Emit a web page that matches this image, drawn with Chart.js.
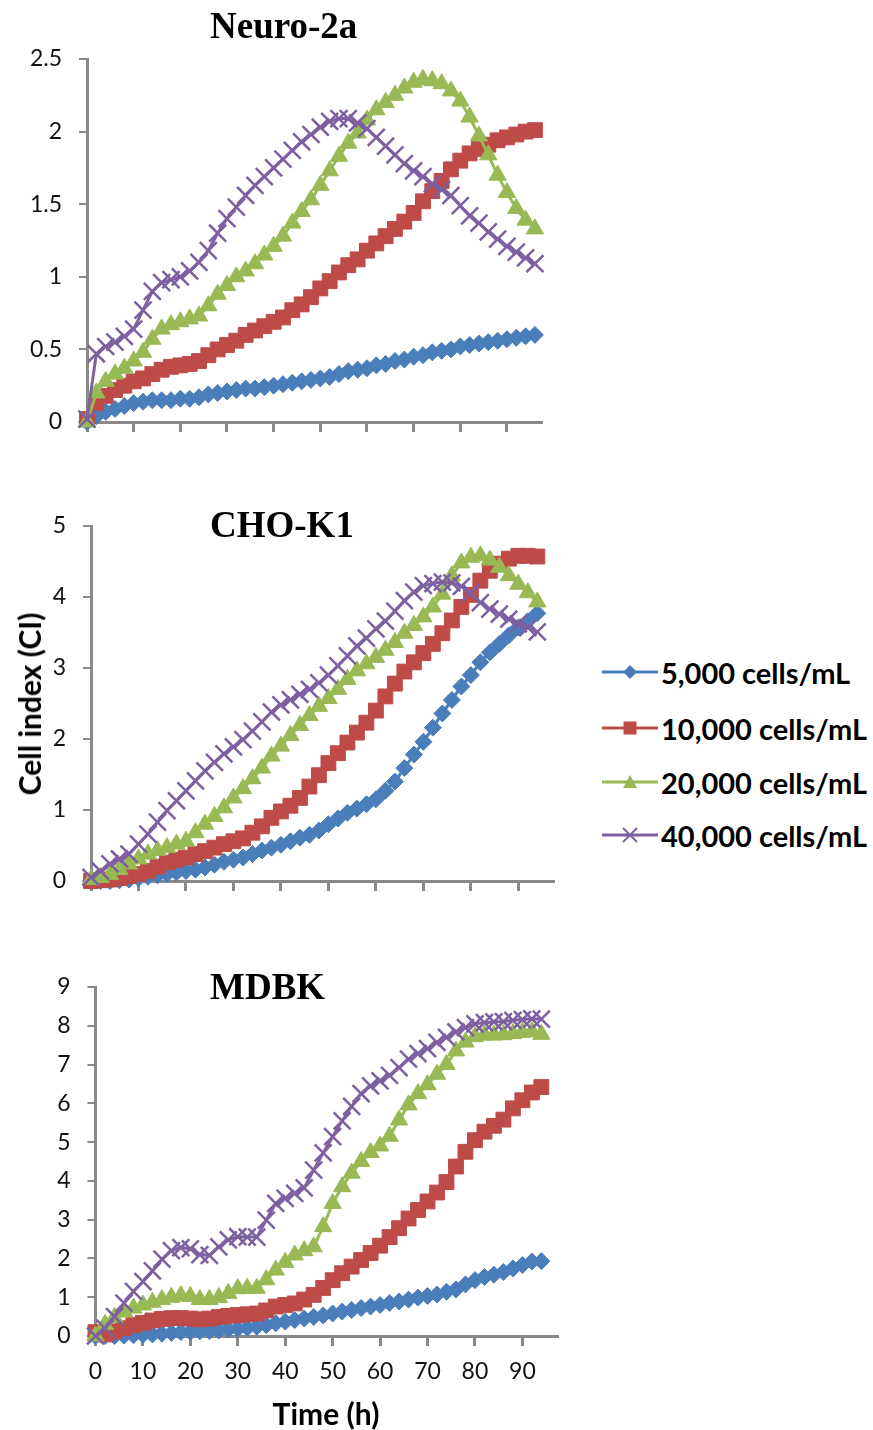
<!DOCTYPE html>
<html>
<head>
<meta charset="utf-8">
<script src="https://cdn.jsdelivr.net/npm/chart.js@4.4.0/dist/chart.umd.min.js"></script>
<style>
  body { margin: 0; background: #fff; }
  #wrap { position: relative; width: 873px; height: 1430px; overflow: hidden; font-family: Lato, sans-serif; }
  #wrap canvas { position: absolute; left: 0; }
  .title { position: absolute; left: 210px; font: bold 37px "Liberation Serif", "Times New Roman", serif; line-height: 37px; color: #000; white-space: nowrap; }
  .axis-title { position: absolute; font: bold 30px Lato, sans-serif; color: #000; white-space: nowrap; }
  .legend-row { position: absolute; left: 602px; height: 40px; display: flex; align-items: center; font: bold 29px Lato, sans-serif; color: #000; white-space: nowrap; }
  .legend-row svg { margin-right: 3px; }
</style>
</head>
<body>
<div id="wrap">
  <canvas id="neuro" width="600" height="470" style="top:0px"></canvas>
  <canvas id="cho" width="600" height="460" style="top:470px"></canvas>
  <canvas id="mdbk" width="600" height="500" style="top:930px"></canvas>
  <div class="title" style="top:7px">Neuro-2a</div>
  <div class="title" style="top:506px">CHO-K1</div>
  <div class="title" style="top:968px">MDBK</div>
  <div class="axis-title" id="ytitle" style="left:29px; top:704px; transform: translate(-50%, -50%) rotate(-90deg);">Cell index (CI)</div>
  <div class="axis-title" style="left:326px; top:1413px; transform: translate(-50%, -50%);">Time (h)</div>
  <div id="legend"></div>
</div>
<script>
// time points (h)
const neuroTimes = [0,2,4,6,8,10,12,14,16,18,20,22,24,26,28,30,32,34,36,38,40,42,44,46,48,50,52,54,56,58,60,62,64,66,68,70,72,74,76,78,80,82,84,86,88,90,92,94,96];
const panelTimes = [0,2,4,6,8,10,12,14,16,18,20,22,24,26,28,30,32,34,36,38,40,42,44,46,48,50,52,54,56,58,60,62,64,66,68,70,72,74,76,78,80,82,84,86,88,90,92,94];

const seriesLabels = ['5,000 cells/mL', '10,000 cells/mL', '20,000 cells/mL', '40,000 cells/mL'];
const seriesColors = ['#4A7EBB', '#BE4B48', '#98B954', '#7D60A0'];
const seriesMarkers = ['rectRot', 'rect', 'triangle', 'crossRot'];

// Neuro-2a
const neuro5k = [0.00,0.04,0.07,0.09,0.11,0.13,0.14,0.15,0.15,0.15,0.16,0.16,0.17,0.19,0.20,0.21,0.22,0.23,0.23,0.24,0.25,0.26,0.27,0.28,0.29,0.30,0.31,0.33,0.35,0.36,0.37,0.39,0.40,0.42,0.43,0.45,0.46,0.48,0.49,0.50,0.52,0.53,0.54,0.55,0.56,0.57,0.58,0.59,0.60];
const neuro10k = [0.02,0.13,0.18,0.22,0.25,0.28,0.30,0.33,0.36,0.38,0.39,0.40,0.42,0.46,0.50,0.53,0.56,0.60,0.63,0.66,0.69,0.72,0.77,0.81,0.86,0.92,0.97,1.03,1.08,1.12,1.18,1.23,1.28,1.33,1.38,1.44,1.52,1.59,1.66,1.74,1.80,1.85,1.88,1.91,1.94,1.96,1.98,2.00,2.01];
const neuro20k = [0.00,0.20,0.28,0.33,0.37,0.42,0.48,0.57,0.64,0.67,0.69,0.71,0.73,0.80,0.88,0.94,1.00,1.04,1.09,1.15,1.21,1.28,1.37,1.45,1.53,1.63,1.73,1.83,1.92,1.99,2.08,2.15,2.20,2.25,2.30,2.34,2.36,2.35,2.33,2.28,2.21,2.10,1.97,1.84,1.70,1.58,1.47,1.39,1.33];
const neuro40k = [0.02,0.47,0.52,0.55,0.59,0.64,0.77,0.90,0.96,0.98,1.00,1.04,1.10,1.18,1.30,1.40,1.48,1.56,1.63,1.69,1.75,1.81,1.87,1.93,1.98,2.03,2.07,2.09,2.09,2.06,2.02,1.96,1.90,1.84,1.78,1.73,1.69,1.64,1.60,1.56,1.49,1.42,1.37,1.31,1.26,1.21,1.17,1.13,1.09];

// CHO-K1
const cho5k = [0.00,0.00,0.00,0.01,0.02,0.04,0.06,0.08,0.10,0.12,0.14,0.16,0.19,0.23,0.27,0.30,0.33,0.38,0.43,0.47,0.51,0.56,0.61,0.65,0.71,0.80,0.88,0.96,1.02,1.08,1.15,1.27,1.40,1.59,1.78,1.96,2.16,2.36,2.55,2.74,2.90,3.08,3.22,3.34,3.46,3.57,3.66,3.77];
const cho10k = [0.00,0.01,0.02,0.04,0.07,0.10,0.14,0.20,0.26,0.30,0.33,0.38,0.42,0.47,0.52,0.56,0.60,0.68,0.77,0.89,0.98,1.06,1.17,1.33,1.49,1.66,1.80,1.95,2.09,2.23,2.40,2.60,2.78,2.95,3.08,3.21,3.34,3.49,3.67,3.86,4.03,4.23,4.37,4.47,4.54,4.58,4.58,4.57];
const cho20k = [0.02,0.05,0.09,0.16,0.24,0.31,0.38,0.43,0.47,0.52,0.56,0.68,0.80,0.91,1.03,1.17,1.30,1.44,1.59,1.76,1.90,2.05,2.19,2.33,2.46,2.57,2.70,2.84,2.96,3.06,3.15,3.25,3.36,3.49,3.60,3.72,3.86,4.04,4.30,4.48,4.56,4.58,4.52,4.42,4.30,4.18,4.06,3.93];
const cho40k = [0.05,0.14,0.24,0.31,0.38,0.52,0.66,0.83,0.99,1.13,1.27,1.41,1.55,1.67,1.79,1.89,1.99,2.11,2.24,2.38,2.48,2.55,2.63,2.70,2.79,2.90,3.03,3.17,3.31,3.42,3.55,3.66,3.80,3.95,4.07,4.16,4.19,4.21,4.20,4.15,4.06,3.92,3.83,3.76,3.69,3.62,3.57,3.51];

// MDBK
const mdbk5k = [0.00,0.00,0.00,0.01,0.02,0.03,0.04,0.06,0.08,0.10,0.11,0.12,0.13,0.14,0.17,0.19,0.21,0.24,0.28,0.33,0.37,0.41,0.45,0.49,0.53,0.58,0.63,0.67,0.72,0.76,0.80,0.85,0.89,0.94,0.99,1.03,1.07,1.14,1.20,1.33,1.44,1.52,1.58,1.65,1.74,1.83,1.92,1.93];
const mdbk10k = [0.10,0.04,0.12,0.20,0.28,0.34,0.40,0.44,0.46,0.46,0.45,0.43,0.45,0.49,0.52,0.54,0.56,0.58,0.66,0.76,0.80,0.84,0.94,1.06,1.24,1.44,1.62,1.79,1.96,2.14,2.33,2.55,2.78,3.03,3.25,3.47,3.70,3.97,4.37,4.75,5.05,5.27,5.42,5.58,5.87,6.08,6.28,6.42];
const mdbk20k = [0.00,0.30,0.48,0.62,0.72,0.80,0.87,0.94,1.00,1.04,1.02,0.94,0.94,0.99,1.10,1.22,1.23,1.23,1.45,1.70,1.90,2.09,2.20,2.30,2.82,3.42,3.85,4.20,4.50,4.73,4.90,5.15,5.57,5.96,6.25,6.48,6.75,7.00,7.35,7.58,7.72,7.76,7.76,7.77,7.80,7.83,7.85,7.78];
const mdbk40k = [0.00,0.20,0.50,0.85,1.15,1.40,1.68,1.98,2.20,2.28,2.25,2.10,2.08,2.30,2.48,2.56,2.55,2.55,2.99,3.42,3.55,3.68,3.82,4.28,4.72,5.14,5.55,5.92,6.25,6.45,6.58,6.72,6.92,7.14,7.28,7.41,7.57,7.70,7.84,7.95,8.05,8.08,8.10,8.11,8.14,8.16,8.18,8.17];

Chart.defaults.font.family = 'Lato, sans-serif';
Chart.defaults.color = '#111';

// big overlapping markers make the dense "band" look of the original
const markerRadius = [8.5, 10.5, 10, 12];
const axisGray = '#898989';

function makePanel(id, times, series, yMax, yStep, showX, box) {
  const datasets = series.map((vals, i) => ({
    label: seriesLabels[i],
    data: times.map((t, k) => ({ x: t, y: vals[k] })),
    borderColor: seriesColors[i],
    backgroundColor: seriesColors[i],
    borderWidth: 3,
    pointStyle: seriesMarkers[i],
    pointRadius: markerRadius[i],
    pointBorderWidth: i === 3 ? 2.5 : 1,
    clip: false,
    order: 3 - i   // purple on top, like the original
  }));

  return new Chart(document.getElementById(id), {
    type: 'line',
    data: { datasets },
    options: {
      responsive: false,
      animation: false,
      events: [],
      layout: { padding: { top: box.top, right: box.right, bottom: 0, left: 0 } },
      plugins: { legend: { display: false }, tooltip: { enabled: false } },
      scales: {
        x: {
          type: 'linear',
          min: 0,
          max: 97.3,
          grid: { drawOnChartArea: false, drawTicks: true, tickLength: 10, color: axisGray, lineWidth: 3 },
          border: { display: true, color: axisGray, width: 3 },
          ticks: { display: showX, stepSize: 10, includeBounds: false, padding: 12, font: { size: 23 }, color: '#111' },
          afterFit: s => { s.height = box.xh; s.paddingLeft = 0; s.paddingRight = 0; }
        },
        y: {
          min: 0,
          max: yMax,
          grid: { drawOnChartArea: false, drawTicks: true, tickLength: 8, color: axisGray, lineWidth: 2 },
          border: { display: true, color: axisGray, width: 3 },
          ticks: { stepSize: yStep, padding: 17, font: { size: 23 }, color: '#111', callback: v => String(v) },
          afterFit: s => { s.width = box.yw; s.paddingTop = 0; s.paddingBottom = 0; }
        }
      }
    }
  });
}

makePanel('neuro', neuroTimes, [neuro5k, neuro10k, neuro20k, neuro40k], 2.5, 0.5, false,
  { top: 59, right: 59, xh: 48, yw: 87 });
makePanel('cho', panelTimes, [cho5k, cho10k, cho20k, cho40k], 5, 1, false,
  { top: 56, right: 47, xh: 49, yw: 91 });
makePanel('mdbk', panelTimes, [mdbk5k, mdbk10k, mdbk20k, mdbk40k], 9, 1, true,
  { top: 57, right: 43, xh: 94, yw: 95.5 });

// legend (line with marker, like the original)
const legendY = [672, 728, 782, 835];
function markerSvg(i) {
  const c = seriesColors[i];
  let m = '';
  if (i === 0) m = `<polygon points="28,3 35,10 28,17 21,10" fill="${c}"/>`;
  if (i === 1) m = `<rect x="21.5" y="3.5" width="13" height="13" fill="${c}"/>`;
  if (i === 2) m = `<polygon points="28,3 35,16 21,16" fill="${c}"/>`;
  if (i === 3) m = `<path d="M21,3 L35,17 M21,17 L35,3" stroke="${c}" stroke-width="2"/>`;
  return `<svg width="56" height="20"><line x1="0" y1="10" x2="56" y2="10" stroke="${c}" stroke-width="3"/>${m}</svg>`;
}
const legendEl = document.getElementById('legend');
seriesLabels.forEach((lab, i) => {
  const row = document.createElement('div');
  row.className = 'legend-row';
  row.style.top = (legendY[i] - 20) + 'px';
  row.innerHTML = markerSvg(i) + '<span>' + lab + '</span>';
  legendEl.appendChild(row);
});
</script>
</body>
</html>
